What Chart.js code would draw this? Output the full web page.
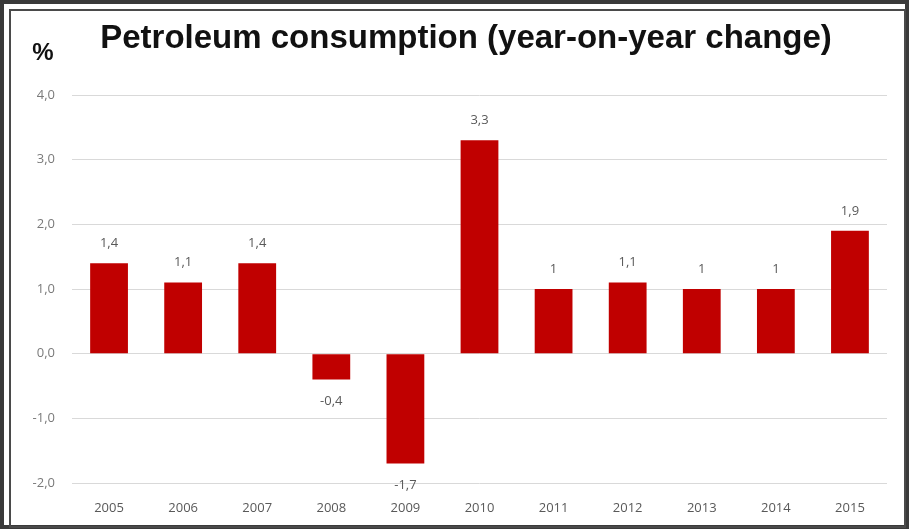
<!DOCTYPE html>
<html>
<head>
<meta charset="utf-8">
<script src="https://cdn.jsdelivr.net/npm/chart.js@4"></script>
<style>
  html, body { margin: 0; padding: 0; background: #fff; }
  #wrap { width: 910px; height: 531px; position: relative; }
</style>
</head>
<body>
<div id="wrap"><canvas id="graph"></canvas></div>
<script>
// dados
const anos = ['2005', '2006', '2007', '2008', '2009', '2010', '2011', '2012', '2013', '2014', '2015'];
const variacao = [1.4, 1.1, 1.4, -0.4, -1.7, 3.3, 1, 1.1, 1, 1, 1.9];
const eixoY = { min: -2, max: 4, passo: 1 };
const titulo = 'Petroleum consumption (year-on-year change)';
const unidade = '%';

const virgula = (v) => String(v).replace('.', ',');

// moldura, título e rótulos das barras
const extras = {
  id: 'extras',
  beforeDraw(chart) {
    const c = chart.ctx;
    c.save();
    c.fillStyle = '#fff';
    c.fillRect(0, 0, chart.width, chart.height);
    c.restore();
  },
  afterDraw(chart) {
    const c = chart.ctx;
    c.save();
    c.strokeStyle = '#3a3a3a';
    c.lineWidth = 4;
    c.strokeRect(2, 2, 905, 525);
    c.lineWidth = 2;
    c.strokeStyle = '#4a4a4a';
    c.strokeRect(10, 10, 895, 517);

    c.fillStyle = '#111';
    c.textAlign = 'center';
    c.textBaseline = 'alphabetic';
    c.font = 'bold 33px "Liberation Sans", Arial, sans-serif';
    c.fillText(titulo, 466, 48);
    c.font = 'bold 24px "Liberation Sans", Arial, sans-serif';
    c.fillText(unidade, 43, 60);
    c.restore();
  },
  afterDatasetsDraw(chart) {
    const c = chart.ctx;
    const meta = chart.getDatasetMeta(0);
    c.save();
    c.fillStyle = '#595959';
    c.font = '13px "Open Sans", sans-serif';
    c.textAlign = 'center';
    c.textBaseline = 'middle';
    meta.data.forEach((bar, i) => {
      const v = variacao[i];
      const y = v >= 0 ? bar.y - 20 : bar.y + 22;
      c.fillText(virgula(v), bar.x, y);
    });
    c.restore();
  }
};

const ctx = document.getElementById('graph').getContext('2d');

new Chart(ctx, {
  type: 'bar',
  data: {
    labels: anos,
    datasets: [{
      data: variacao,
      backgroundColor: '#c00000',
      categoryPercentage: 1,
      barPercentage: 0.51
    }]
  },
  options: {
    responsive: true,
    maintainAspectRatio: false,
    animation: false,
    layout: { padding: { top: 95, right: 23, bottom: 0, left: 0 } },
    plugins: {
      legend: { display: false },
      tooltip: { enabled: false }
    },
    scales: {
      x: {
        grid: { display: false, drawTicks: false },
        border: { display: false },
        ticks: {
          color: '#595959',
          padding: 17,
          font: { size: 13, family: '"Open Sans", sans-serif' }
        },
        afterFit: (axis) => { axis.height = 48; }
      },
      y: {
        min: eixoY.min,
        max: eixoY.max,
        grid: { color: '#d9d9d9', drawTicks: false },
        border: { display: false },
        ticks: {
          stepSize: eixoY.passo,
          color: '#7a7a7a',
          padding: 17,
          font: { size: 13, family: '"Open Sans", sans-serif' },
          callback: (v) => v.toFixed(1).replace('.', ',')
        },
        afterFit: (axis) => { axis.width = 72; }
      }
    }
  },
  plugins: [extras]
});
</script>
</body>
</html>
